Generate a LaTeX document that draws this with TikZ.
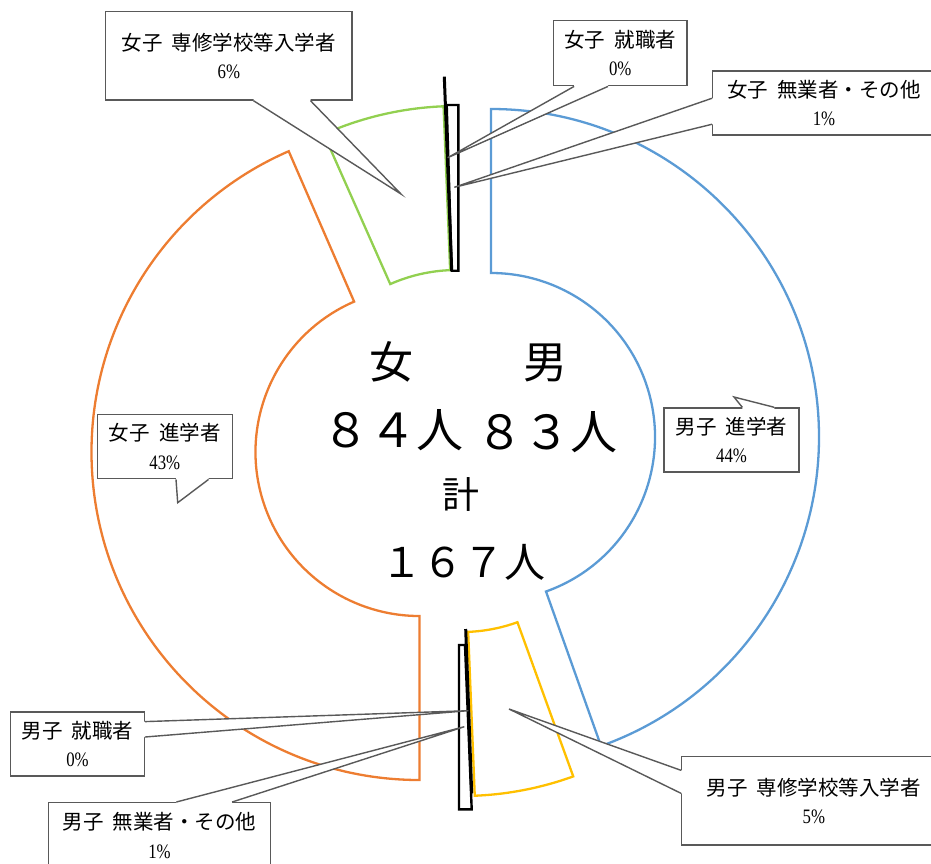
\documentclass[tikz,border=0pt]{standalone}
\usepackage{fontspec}
\usepackage{graphicx}
\setmainfont{Liberation Serif}
\newfontfamily\jp{Noto Sans CJK JP}
\usetikzlibrary{calc}
\definecolor{cblue}{HTML}{5B9BD5}
\definecolor{corange}{HTML}{ED7D31}
\definecolor{cgreen}{HTML}{92D050}
\definecolor{cyellow}{HTML}{FFC000}
\definecolor{cgray}{HTML}{595959}
\newcommand\nar[1]{\scalebox{0.82}[1]{#1}}
\newcommand\mytail[4]{%
  \fill[white] (#1) -- (#3) -- (#2) -- ($(#2)+#4$) -- ($(#1)+#4$) -- cycle;
  \draw[tailline] (#1) -- (#3) -- (#2);}
\begin{document}
\begin{tikzpicture}[x=1pt,y=1pt,yscale=-1,
  seg/.style={line width=2.3pt},
  blk/.style={draw=black, line width=2.4pt},
  zero/.style={draw=black, line width=3pt},
  callbox/.style={draw=cgray, line width=1.4pt, fill=white, inner sep=0pt, align=center, font=\fontsize{20.5}{28.5}\selectfont},
  tailline/.style={draw=cgray, line width=1.4pt},
  big/.style={inner sep=0pt}]
\useasboundingbox (0,0) rectangle (931,863);
\clip (0,0) rectangle (931,863);

% centres of the exploded segments
\coordinate (Cb) at (491,437);
\coordinate (Co) at (419.5,452);
\coordinate (Cg) at (456.7,434);
\coordinate (Cy) at (461.6,468);

% 男子 進学者
\draw[seg, cblue] ($(Cb)+(-90:328)$) arc[start angle=-90, end angle=70.4, radius=328]
  -- ($(Cb)+(70.4:164)$) arc[start angle=70.4, end angle=-90, radius=164] -- cycle;
% 男子 専修学校等入学者
\draw[seg, cyellow] ($(Cy)+(70.1:328)$) arc[start angle=70.1, end angle=87.7, radius=328]
  -- ($(Cy)+(87.7:164)$) arc[start angle=87.7, end angle=70.1, radius=164] -- cycle;
% 女子 進学者
\draw[seg, corange] ($(Co)+(90:328)$) arc[start angle=90, end angle=246.5, radius=328]
  -- ($(Co)+(246.5:164)$) arc[start angle=246.5, end angle=90, radius=164] -- cycle;
% 女子 専修学校等入学者
\draw[seg, cgreen] ($(Cg)+(246.1:328)$) arc[start angle=246.1, end angle=267.7, radius=328]
  -- ($(Cg)+(267.7:164)$) arc[start angle=267.7, end angle=246.1, radius=164] -- cycle;

% 無業者・その他 (thin wedges) and 就職者 (0 %)
\draw[blk] (446.7,105) -- (458.3,105) -- (458.3,270.7) -- (451.7,270.7) -- cycle;
\draw[blk] (459,645) -- (465,645) -- (471.7,809.3) -- (459,809.3) -- cycle;
\draw[zero] (444.3,76.7) -- (451.7,270.7);
\draw[zero] (465.7,629) -- (471.7,793.3);

% centre texts
\node[big, font=\jp\fontsize{44}{44}\selectfont] (tw) at (391.7,361.5) {女};
\node[big, font=\jp\fontsize{44}{44}\selectfont] (tm) at (545,363) {男};
\node[big, font=\jp\fontsize{47}{47}\selectfont] (nw) at (392.5,430) {８４人};
\node[big, font=\jp\fontsize{47}{47}\selectfont] (nm) at (547,432) {８３人};
\node[big, font=\jp\fontsize{37}{37}\selectfont] (kei) at (461,494) {計};
\node[big, font=\jp\fontsize{41}{41}\selectfont] (tot) at (463,562) {１６７人};

% callouts
\coordinate (tA) at (401,194);
\coordinate (tB) at (447.7,157.7);
\coordinate (tC) at (454.3,187.3);
\coordinate (tD) at (468.3,710.7);
\coordinate (tE) at (464.3,726.7);
\coordinate (tF) at (509,709);
\coordinate (tG) at (734,397);
\coordinate (tH) at (177.7,502.7);

\node[callbox, minimum width=246.4pt, minimum height=88.3pt] (bA) at (228.9,55.85)
  {{\jp 女子\hspace{.45em}専修学校等入学者}\\\nar{6\%}};
\coordinate (A1) at ($(bA.south west)+(148.5,0)$);
\coordinate (A2) at ($(bA.south west)+(205.5,0)$);
\mytail{A1}{A2}{tA}{(0,-2)}

\node[callbox, minimum width=133.6pt, minimum height=65pt] (bB) at (620.2,53.2)
  {{\jp 女子\hspace{.45em}就職者}\\\nar{0\%}};
\coordinate (B1) at ($(bB.south west)+(21.4,0)$);
\coordinate (B2) at ($(bB.south west)+(55.3,0)$);
\mytail{B1}{B2}{tB}{(0,-2)}

\node[callbox, minimum width=222.8pt, minimum height=64pt] (bC) at (824,103)
  {{\jp 女子\hspace{.45em}無業者・その他}\\\nar{1\%}};
\coordinate (C1) at ($(bC.north west)+(0,28)$);
\coordinate (C2) at ($(bC.north west)+(0,54)$);
\mytail{C1}{C2}{tC}{(2,0)}

\node[callbox, minimum width=133.6pt, minimum height=64pt] (bD) at (77.5,744)
  {{\jp 男子\hspace{.45em}就職者}\\\nar{0\%}};
\coordinate (D1) at ($(bD.north east)+(0,10.3)$);
\coordinate (D2) at ($(bD.north east)+(0,25.7)$);
\mytail{D1}{D2}{tD}{(-2,0)}

\node[callbox, minimum width=221.5pt, minimum height=66pt] (bE) at (159.5,835.7)
  {{\jp 男子\hspace{.45em}無業者・その他}\\\nar{1\%}};
\coordinate (E1) at ($(bE.north west)+(128.3,0)$);
\coordinate (E2) at ($(bE.north west)+(184.1,0)$);
\mytail{E1}{E2}{tE}{(0,2)}

\node[callbox, minimum width=264.2pt, minimum height=88.3pt] (bF) at (813.8,800.85)
  {{\jp 男子\hspace{.45em}専修学校等入学者}\\\nar{5\%}};
\coordinate (F1) at ($(bF.north west)+(0,14.3)$);
\coordinate (F2) at ($(bF.north west)+(0,37.3)$);
\mytail{F1}{F2}{tF}{(2,0)}

\node[callbox, minimum width=135pt, minimum height=64pt] (bG) at (731.5,440)
  {{\jp 男子\hspace{.45em}進学者}\\\nar{44\%}};
\coordinate (G1) at ($(bG.north west)+(79,0)$);
\coordinate (G2) at ($(bG.north west)+(111,0)$);
\mytail{G1}{G2}{tG}{(0,2)}

\node[callbox, minimum width=135pt, minimum height=64.4pt] (bH) at (164.8,446.5)
  {{\jp 女子\hspace{.45em}進学者}\\\nar{43\%}};
\coordinate (H1) at ($(bH.south west)+(79.4,0)$);
\coordinate (H2) at ($(bH.south west)+(112,0)$);
\mytail{H1}{H2}{tH}{(0,-2)}
\end{tikzpicture}
\end{document}
